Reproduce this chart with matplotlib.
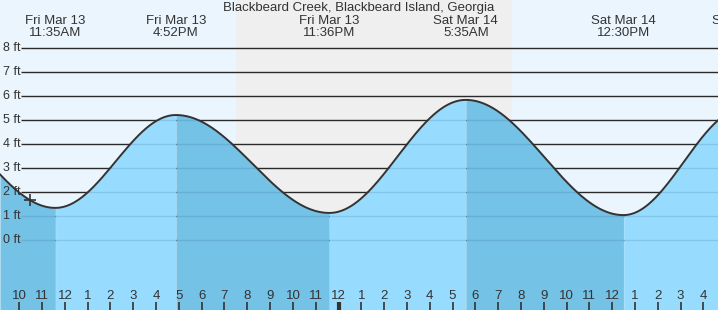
import numpy as np
import matplotlib.pyplot as plt

# tide extremes, hours from Fri Mar 13 00:00
ext_hours = [5.33, 11.583, 16.867, 23.6, 29.583, 36.5, 41.8]
ext_feet = [5.6, 1.35, 5.22, 1.14, 5.85, 1.05, 5.5]
ext_days = ["Fri Mar 13", "Fri Mar 13", "Fri Mar 13", "Fri Mar 13",
            "Sat Mar 14", "Sat Mar 14", "Sat Mar 14"]
ext_times = ["5:20AM", "11:35AM", "4:52PM", "11:36PM", "5:35AM", "12:30PM", "5:48PM"]

sunset = 19.5
sunrise = 31.57
now_hour = 10.47

ft_levels = [0, 1, 2, 3, 4, 5, 6, 7, 8]
hour_ticks = list(range(10, 41))
title = "Blackbeard Creek, Blackbeard Island, Georgia"

# pixel mapping of the original chart
PX_PER_H = 22.8
X10 = 19.3
PX_PER_FT = 24.0
Y0 = 240.3
W, H = 718, 310


def px_to_h(x):
    return 10 + (x - X10) / PX_PER_H


def px_to_ft(y):
    return (Y0 - y) / PX_PER_FT


def tide(t):
    """cosine interpolation between highs and lows"""
    out = np.zeros_like(t)
    for i in range(len(ext_hours) - 1):
        t0, t1 = ext_hours[i], ext_hours[i + 1]
        h0, h1 = ext_feet[i], ext_feet[i + 1]
        m = (t >= t0) & (t <= t1)
        f = (t[m] - t0) / (t1 - t0)
        out[m] = h0 + (h1 - h0) * (1 - np.cos(np.pi * f)) / 2
    return out


fig = plt.figure(figsize=(W / 100, H / 100), dpi=100)
ax = fig.add_axes([0, 0, 1, 1])
xmin, xmax = px_to_h(0), px_to_h(W)
ymin, ymax = px_to_ft(H), px_to_ft(0)
ax.set_xlim(xmin, xmax)
ax.set_ylim(ymin, ymax)
ax.axis("off")
ax.add_patch(plt.Rectangle((xmin, ymin), xmax - xmin, ymax - ymin,
                           color="#ebf5fe", zorder=0))
ax.axvspan(sunset, sunrise, color="#efefef", zorder=0.5)

fnt = "Liberation Sans"
txt = "#333333"

# grid lines above water
gx0 = px_to_h(21)
ax.hlines(ft_levels, gx0, xmax, color="#2a2a2a", lw=1.0, zorder=1)
for v in ft_levels:
    ax.text(px_to_h(3), v, "%d ft" % v, ha="left", va="center",
            fontsize=9, family=fnt, color=txt, zorder=5)

# water
t = np.linspace(xmin, xmax, 3000)
y = tide(t)
for i in range(len(ext_hours) - 1):
    falling = ext_feet[i + 1] < ext_feet[i]
    m = (t >= ext_hours[i]) & (t <= ext_hours[i + 1])
    if m.sum() == 0:
        continue
    ax.fill_between(t[m], ymin, y[m], color="#74c2e6" if falling else "#97dcfe",
                    lw=0, zorder=2)

# grid lines seen through the water
poly = ax.fill_between(t, ymin, y, color="none", lw=0, zorder=2)
lines = ax.hlines(ft_levels, gx0, xmax, color=(0.2, 0.4, 0.6, 0.2), lw=1.0, zorder=3)
lines.set_clip_path(poly.get_paths()[0], ax.transData)

ax.plot(t, y, color="#333333", lw=1.4, zorder=4)
ax.plot([now_hour], tide(np.array([now_hour])), marker="+", ms=9, mew=1.2,
        color="#333333", zorder=5)

# top labels (only extremes from the left edge on)
for h, d, s in zip(ext_hours, ext_days, ext_times):
    if h < xmin:
        continue
    ax.text(h, px_to_ft(20.5), d, ha="center", va="center", fontsize=9.5,
            family=fnt, color=txt, zorder=5)
    ax.text(h, px_to_ft(33), s, ha="center", va="center", fontsize=9.5,
            family=fnt, color=txt, zorder=5)
ax.text(px_to_h(W / 2), px_to_ft(7.5), title, ha="center", va="center",
        fontsize=9.5, family=fnt, color=txt, zorder=5)

# hour ticks
for h in hour_ticks:
    lab = (h - 1) % 12 + 1
    ax.text(h, px_to_ft(296), str(lab), ha="center", va="center", fontsize=9.5,
            family=fnt, color=txt, zorder=5)
    lw = 3 if h % 24 == 0 else 1.2
    ax.vlines(h, ymin, px_to_ft(302), color="#333333", lw=lw, zorder=5)

fig.savefig("out.png", dpi=100)
